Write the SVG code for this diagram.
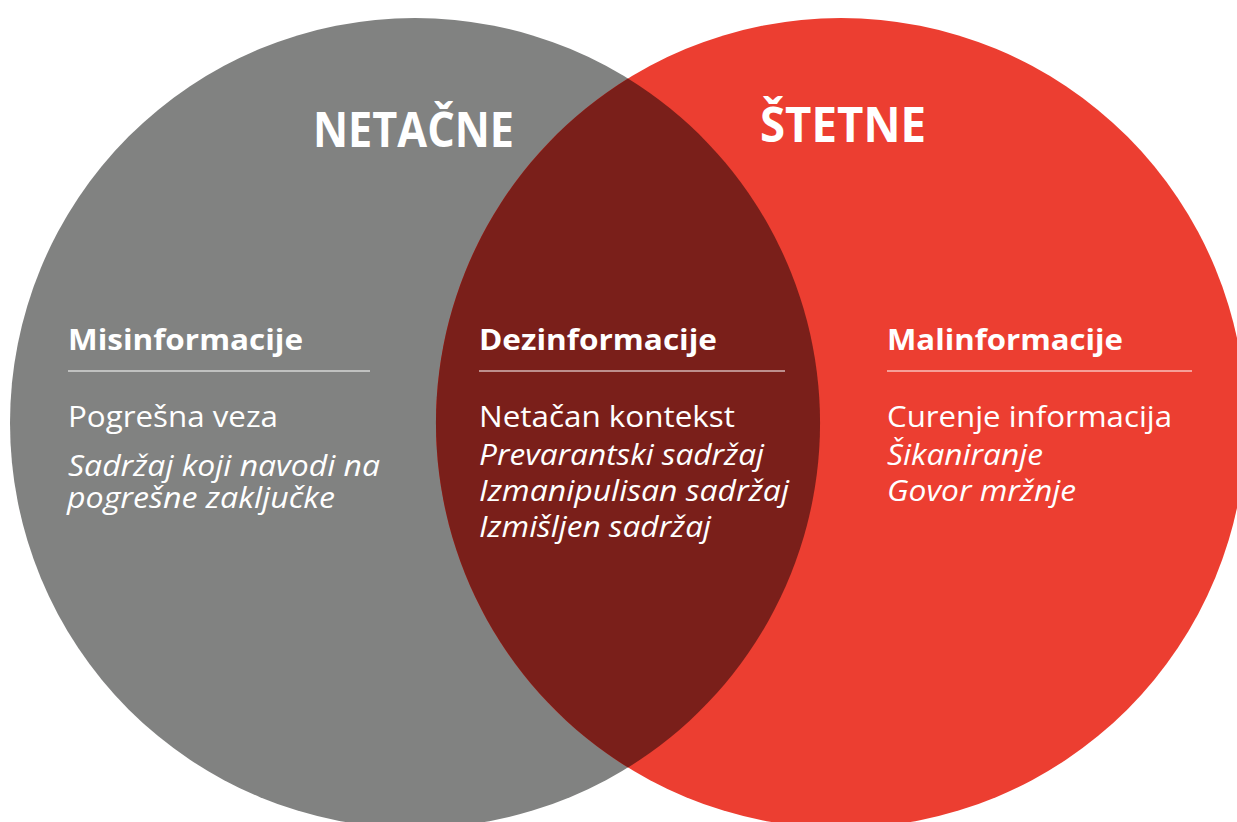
<svg xmlns="http://www.w3.org/2000/svg" width="1237" height="822" viewBox="0 0 1237 822">
  <style>
    text { fill: #ffffff; font-family: "Open Sans", "Noto Sans", "Liberation Sans", sans-serif; }
    .title { font-size: 48px; font-weight: 700; }
    .head { font-size: 28px; font-weight: 700; }
    .body { font-size: 30px; font-weight: 400; }
    .it { font-style: italic; font-size: 29px; }
    .rule { stroke: #ffffff; stroke-width: 1.2; }
  </style>
  <rect x="0" y="0" width="1237" height="822" fill="#ffffff"/>
  <g id="circle-netacne">
    <circle cx="415" cy="423" r="405" fill="#818281"/>
  </g>
  <g id="circle-stetne">
    <circle cx="841" cy="423" r="405" fill="#EC3E31"/>
  </g>
  <g id="overlap">
    <path d="M628,78.5 A405,405 0 0,0 628,767.5 A405,405 0 0,0 628,78.5 Z" fill="#7A1F1A"/>
  </g>
  <g id="title-netacne">
    <text class="title" x="313" y="147" textLength="201" lengthAdjust="spacingAndGlyphs">NETAČNE</text>
  </g>
  <g id="title-stetne">
    <text class="title" x="760" y="142" textLength="166" lengthAdjust="spacingAndGlyphs">ŠTETNE</text>
  </g>
  <g id="node-misinformacije">
    <text class="head" x="68" y="350" textLength="235" lengthAdjust="spacingAndGlyphs">Misinformacije</text>
    <line class="rule" x1="68" y1="371" x2="370" y2="371"/>
    <text class="body" x="68" y="427" textLength="210" lengthAdjust="spacingAndGlyphs">Pogrešna veza</text>
    <text class="body it" x="68" y="476" textLength="312" lengthAdjust="spacingAndGlyphs">Sadržaj koji navodi na</text>
    <text class="body it" x="67" y="508" textLength="268" lengthAdjust="spacingAndGlyphs">pogrešne zaključke</text>
  </g>
  <g id="node-dezinformacije">
    <text class="head" x="479" y="350" textLength="238" lengthAdjust="spacingAndGlyphs">Dezinformacije</text>
    <line class="rule" x1="479" y1="371" x2="785" y2="371"/>
    <text class="body" x="479" y="427" textLength="256" lengthAdjust="spacingAndGlyphs">Netačan kontekst</text>
    <text class="body it" x="479" y="465" textLength="285" lengthAdjust="spacingAndGlyphs">Prevarantski sadržaj</text>
    <text class="body it" x="479" y="501" textLength="310" lengthAdjust="spacingAndGlyphs">Izmanipulisan sadržaj</text>
    <text class="body it" x="479" y="537" textLength="232" lengthAdjust="spacingAndGlyphs">Izmišljen sadržaj</text>
  </g>
  <g id="node-malinformacije">
    <text class="head" x="887" y="350" textLength="236" lengthAdjust="spacingAndGlyphs">Malinformacije</text>
    <line class="rule" x1="887" y1="371" x2="1192" y2="371"/>
    <text class="body" x="887" y="427" textLength="285" lengthAdjust="spacingAndGlyphs">Curenje informacija</text>
    <text class="body it" x="887" y="465" textLength="156" lengthAdjust="spacingAndGlyphs">Šikaniranje</text>
    <text class="body it" x="887" y="501" textLength="189" lengthAdjust="spacingAndGlyphs">Govor mržnje</text>
  </g>
  <g id="connectors"></g>
</svg>
